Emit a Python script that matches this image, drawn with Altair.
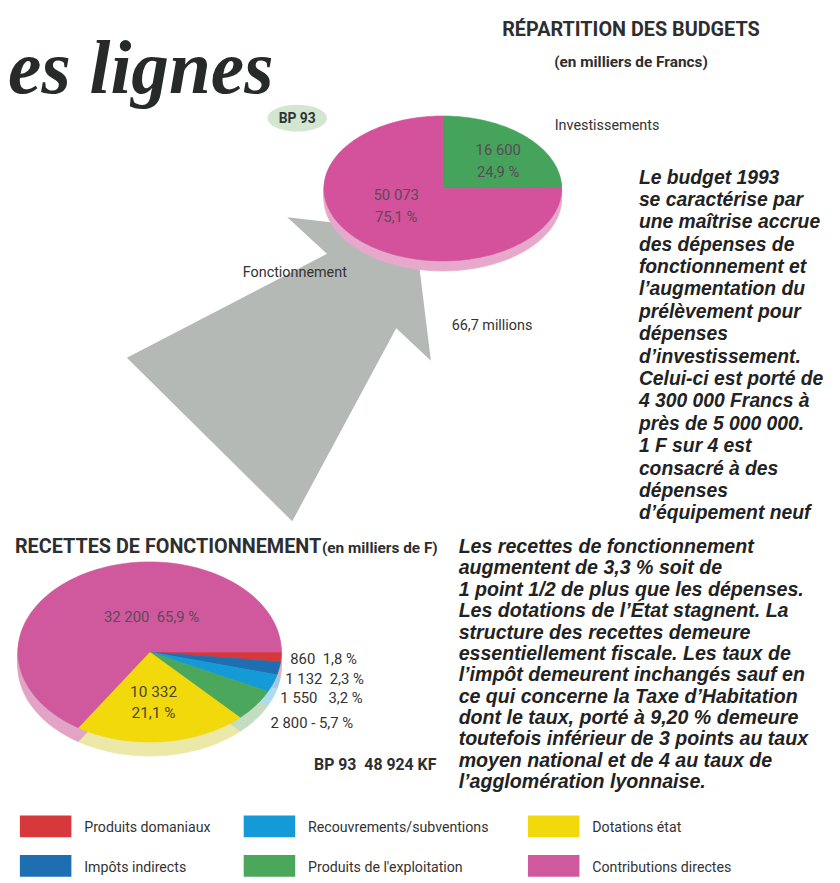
import altair as alt
import numpy as np
import pandas as pd

# ---------------- data ----------------
budget_labels = ["Investissements", "Fonctionnement"]
budget_values = [16600, 50073]
budget_pcts = [24.9, 75.1]
budget_total = "66,7 millions"

recette_labels = ["Produits domaniaux", "Impôts indirects", "Recouvrements/subventions",
                  "Produits de l'exploitation", "Dotations état", "Contributions directes"]
recette_values = [860, 1132, 1550, 2800, 10332, 32200]
recette_pcts = [1.8, 2.3, 3.2, 5.7, 21.1, 65.9]
recette_total = 48924

legend_order = ["Produits domaniaux", "Recouvrements/subventions", "Dotations état",
                "Impôts indirects", "Produits de l'exploitation", "Contributions directes"]

para_right = ["Le budget 1993", "se caractérise par", "une maîtrise accrue", "des dépenses de",
              "fonctionnement et", "l’augmentation du", "prélèvement pour", "dépenses",
              "d’investissement.", "Celui-ci est porté de", "4 300 000 Francs à",
              "près de 5 000 000.", "1 F sur 4 est", "consacré à des", "dépenses",
              "d’équipement neuf"]
para_bottom = ["Les recettes de fonctionnement", "augmentent de 3,3 % soit de",
               "1 point 1/2 de plus que les dépenses.", "Les dotations de l’État stagnent. La",
               "structure des recettes demeure", "essentiellement fiscale. Les taux de",
               "l’impôt demeurent inchangés sauf en", "ce qui concerne la Taxe d’Habitation",
               "dont le taux, porté à 9,20 % demeure", "toutefois inférieur de 3 points au taux",
               "moyen national et de 4 au taux de", "l’agglomération lyonnaise."]

# ---------------- styles ----------------
OX, OY = 8, 8
NARROW = "Roboto, 'Liberation Sans', sans-serif"
SANS = "'Liberation Sans', Arial, sans-serif"
SERIF = "'Liberation Serif', 'Times New Roman', serif"
INK = "#2e2e2e"
LABEL_INK = "#5a4b55"
NBSP = "\u00a0"

BUDGET_FILL = {"Investissements": "#45a35b", "Fonctionnement": "#d4519b"}
BUDGET_RIM = {"Investissements": "#a9d3b0", "Fonctionnement": "#e7a9cb"}
REC_FILL = {"Produits domaniaux": "#d7383b", "Impôts indirects": "#1d6fb1",
            "Recouvrements/subventions": "#149bd7", "Produits de l'exploitation": "#4aa75c",
            "Dotations état": "#f1d90b", "Contributions directes": "#d0599e"}
REC_RIM = {"Produits domaniaux": "#e8b0b0", "Impôts indirects": "#a8c8e2",
           "Recouvrements/subventions": "#aedcef", "Produits de l'exploitation": "#c3dcc2",
           "Dotations état": "#ece8a8", "Contributions directes": "#e2a3c6"}


def fmt_num(v):
    return f"{v:,}".replace(",", NBSP)


def fmt_pct(p):
    return f"{p:.1f}".replace(".", ",") + NBSP + "%"


def slice_paths(values, start_deg, k, n=240):
    """Elliptical pie slices (unit semi-axis 1 horizontally, k vertically)."""
    total = float(sum(values))
    a = np.radians(start_deg)
    paths = []
    for v in values:
        span = 2 * np.pi * v / total
        m = max(3, int(n * v / total) + 2)
        ts = np.linspace(a, a + span, m)
        pts = "".join(f"L{np.sin(t):.4f},{-k * np.cos(t):.4f}" for t in ts)
        paths.append("M0,0" + pts + "Z")
        a += span
    return paths


def pie(labels, values, start_deg, k, cx, cy, rx, fills, rim=0, rim_fills=None):
    paths = slice_paths(values, start_deg, k)
    layers = []
    if rim:
        rows = []
        for off in range(2, rim + 1, 2):
            for lab, p in zip(labels, paths):
                rows.append({"cat": lab, "path": p, "fill": rim_fills[lab], "cy": cy - OY + off})
        layers.append(
            alt.Chart(pd.DataFrame(rows)).mark_point(filled=True, opacity=1, strokeWidth=0.8).encode(
                x=alt.value(cx - OX),
                y=alt.Y("cy:Q", scale=None),
                shape=alt.Shape("path:N", scale=None),
                fill=alt.Fill("fill:N", scale=None),
                stroke=alt.Stroke("fill:N", scale=None),
                size=alt.value((2 * rx) ** 2),
            )
        )
    df = pd.DataFrame({"cat": labels, "path": paths, "fill": [fills[l] for l in labels]})
    layers.append(
        alt.Chart(df).mark_point(filled=True, opacity=1, strokeWidth=0.6).encode(
            x=alt.value(cx - OX),
            y=alt.value(cy - OY),
            shape=alt.Shape("path:N", scale=None),
            fill=alt.Fill("fill:N", scale=None),
            stroke=alt.Stroke("fill:N", scale=None),
            size=alt.value((2 * rx) ** 2),
        )
    )
    return layers


def txt(s, x, y, size, font=NARROW, weight="normal", style="normal", align="left",
        color=INK, line_height=None):
    kw = dict(font=font, fontSize=size, fontWeight=weight, fontStyle=style, align=align,
              baseline="alphabetic", color=color)
    if line_height:
        kw.update(lineBreak="\n", lineHeight=line_height)
    return alt.Chart(pd.DataFrame({"t": [s]})).mark_text(**kw).encode(
        text="t:N", x=alt.value(x - OX), y=alt.value(y - OY))


layers = []

# decorative grey arrow (page coordinates)
arrow_pts = [(290, 215), (419, 230), (435, 360), (400, 327), (295, 522), (128, 357), (330, 252)]
arrow_path = "M" + "L".join(f"{x - OX},{y - OY}" for x, y in arrow_pts) + "Z"
layers.append(
    alt.Chart(pd.DataFrame({"p": [arrow_path]})).mark_point(filled=True, opacity=1).encode(
        x=alt.value(0), y=alt.value(0), shape=alt.Shape("p:N", scale=None),
        fill=alt.value("#b4b9b6"), size=alt.value(4))
)

# top pie : budget split
layers += pie(budget_labels, budget_values, 0, 0.61, 447, 186, 120, BUDGET_FILL,
              rim=10, rim_fills=BUDGET_RIM)

# BP 93 badge
badge = slice_paths([1], 0, 0.45)[0]
layers.append(
    alt.Chart(pd.DataFrame({"p": [badge]})).mark_point(filled=True, opacity=1).encode(
        x=alt.value(300 - OX), y=alt.value(115 - OY), shape=alt.Shape("p:N", scale=None),
        fill=alt.value("#d3e6d0"), size=alt.value(60 ** 2))
)
layers.append(txt("BP 93", 300, 120, 14, weight="bold", align="center", color="#333"))

# bottom pie : recettes
layers += pie(recette_labels, recette_values, 90, 0.684, 151, 654, 133, REC_FILL,
              rim=14, rim_fills=REC_RIM)

# titles
layers.append(txt("es lignes", OX, 90, 76, font=SERIF, weight="bold", style="italic", color="#262a28"))
layers.append(txt("RÉPARTITION DES BUDGETS", 637, 32, 20, weight="bold", align="center"))
layers.append(txt("(en milliers de Francs)", 637, 63, 15.5, weight="bold", align="center"))
layers.append(txt("RECETTES DE FONCTIONNEMENT", 15, 554, 20, weight="bold"))
layers.append(txt("(en milliers de F)", 325, 554, 15.5, weight="bold"))

# top pie labels
layers.append(txt(budget_labels[0], 560, 127, 14.5, color="#333"))
layers.append(txt(budget_labels[1], 245, 275, 14.5, color="#333"))
layers.append(txt(budget_total, 456, 329, 14.5, color="#333"))
layers.append(txt(fmt_num(budget_values[0]) + "\n" + fmt_pct(budget_pcts[0]), 503, 152, 15,
                  align="center", color=LABEL_INK, line_height=22))
layers.append(txt(fmt_num(budget_values[1]) + "\n" + fmt_pct(budget_pcts[1]), 400, 198, 15,
                  align="center", color=LABEL_INK, line_height=22))

# bottom pie labels
layers.append(txt(fmt_num(recette_values[5]) + NBSP * 2 + fmt_pct(recette_pcts[5]), 153, 624, 15,
                  align="center", color=LABEL_INK))
layers.append(txt(fmt_num(recette_values[4]) + "\n" + fmt_pct(recette_pcts[4]), 155, 699, 15.5,
                  align="center", color="#4a4536", line_height=22))
side_pos = [(293, 666), (288, 686), (283, 706), (273, 731)]
side_sep = [NBSP * 2, NBSP * 2, NBSP * 3, NBSP + "-" + NBSP]
for i, (px, py) in enumerate(side_pos):
    layers.append(txt(fmt_num(recette_values[i]) + side_sep[i] + fmt_pct(recette_pcts[i]),
                      px, py, 15, color="#333"))
layers.append(txt("BP" + NBSP + "93" + NBSP * 2 + fmt_num(recette_total) + NBSP + "KF", 317, 773, 16,
                  weight="bold"))

# paragraphs
layers.append(txt("\n".join(para_right), 645, 181, 19.5, font=SANS, weight="bold", style="italic",
                  color="#222", line_height=22.6))
layers.append(txt("\n".join(para_bottom), 463, 554, 19.8, font=SANS, weight="bold", style="italic",
                  color="#222", line_height=21.6))

# legend (manual, 3 columns x 2 rows)
col_x = [20, 246, 533]
row_y = [819, 859]
leg_rows = []
for i, lab in enumerate(legend_order):
    c, r = i % 3, i // 3
    leg_rows.append({"cat": lab, "x0": col_x[c] - OX, "x1": col_x[c] + 52 - OX,
                     "y0": row_y[r] - OY, "y1": row_y[r] + 22 - OY,
                     "tx": col_x[c] + 65 - OX, "ty": row_y[r] + 17 - OY,
                     "fill": REC_FILL[lab]})
leg_df = pd.DataFrame(leg_rows)
layers.append(
    alt.Chart(leg_df).mark_rect().encode(
        x=alt.X("x0:Q", scale=None), x2="x1:Q", y=alt.Y("y0:Q", scale=None), y2="y1:Q",
        fill=alt.Fill("fill:N", scale=None))
)
layers.append(
    alt.Chart(leg_df).mark_text(font=NARROW, fontSize=14.3, align="left", baseline="alphabetic",
                                color="#333").encode(
        x=alt.X("tx:Q", scale=None), y=alt.Y("ty:Q", scale=None), text="cat:N")
)

chart = alt.layer(*layers).properties(
    width=840 - OX, height=883 - OY, padding=0,
    autosize=alt.AutoSizeParams(type="none"),
    background="white",
).configure_view(stroke=None)

chart.save("out.html", embed_options={"renderer": "svg", "actions": False})
